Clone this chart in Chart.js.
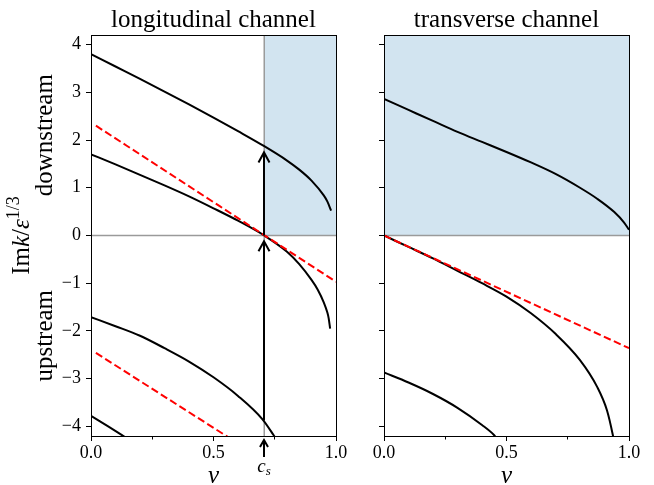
<!DOCTYPE html>
<html>
<head>
<meta charset="utf-8">
<script src="https://cdn.jsdelivr.net/npm/chart.js@4.4.1/dist/chart.umd.min.js"></script>
<style>
  body { margin: 0; background: #fff; }
  #wrap { position: relative; width: 654px; height: 485px; }
  canvas { position: absolute; top: 0; }
</style>
</head>
<body>
<div id="wrap">
  <canvas id="leftChart" width="360" height="485" style="left:0; width:360px; height:485px"></canvas>
  <canvas id="rightChart" width="294" height="485" style="left:360px; width:294px; height:485px"></canvas>
</div>
<script>
// sound speed c_s and axis limits
const cs = 0.7071;
const yMin = -4.2;
const yMax = 4.2;
const xTicks = [0, 0.5, 1];
const xMinorTicks = [0.25, 0.75];
const yTicks = [-4, -3, -2, -1, 0, 1, 2, 3, 4];

// longitudinal channel
const longAV = [0, 0.1, 0.2, 0.3, 0.4, 0.5, 0.6, 0.7071, 0.8, 0.85, 0.9, 0.95, 0.965, 0.98];
const longA = [3.80, 3.54, 3.28, 3.015, 2.745, 2.47, 2.185, 1.87, 1.57, 1.38, 1.15, 0.84, 0.71, 0.52];
const longBV = [0, 0.1, 0.2, 0.3, 0.4, 0.5, 0.6, 0.7071, 0.8, 0.85, 0.9, 0.925, 0.95, 0.965, 0.97, 0.976];
const longB = [1.70, 1.49, 1.27, 1.05, 0.82, 0.57, 0.31, 0.0, -0.34, -0.60, -0.93, -1.13, -1.40, -1.62, -1.73, -1.95];
const longCV = [0, 0.1, 0.2, 0.3, 0.4, 0.5, 0.6, 0.7, 0.745, 0.76];
const longC = [-1.71, -1.90, -2.10, -2.36, -2.64, -2.97, -3.36, -3.85, -4.18, -4.30];
const longDV = [0, 0.07, 0.15];
const longD = [-3.78, -4.0, -4.26];
const longRedUpV = [0.02, 1.0];
const longRedUp = [2.30, -0.97];
const longRedLowV = [0.02, 0.58];
const longRedLow = [-2.46, -4.29];

// transverse channel
const transEV = [0, 0.1, 0.2, 0.3, 0.4, 0.5, 0.6, 0.7, 0.8, 0.87, 0.94, 0.98, 1.0];
const transE = [2.86, 2.63, 2.40, 2.17, 1.96, 1.75, 1.53, 1.29, 1.00, 0.77, 0.49, 0.27, 0.12];
const transFV = [0, 0.1, 0.2, 0.3, 0.4, 0.5, 0.6, 0.7, 0.8, 0.87, 0.91, 0.934, 0.94];
const transF = [0, -0.24, -0.48, -0.74, -1.0, -1.28, -1.63, -2.06, -2.61, -3.17, -3.66, -4.18, -4.35];
const transGV = [0, 0.1, 0.2, 0.3, 0.4, 0.449, 0.46];
const transG = [-2.87, -3.08, -3.32, -3.61, -3.97, -4.18, -4.25];
const transRedV = [0, 1.0];
const transRed = [0, -2.36];

// arrows at c_s in the left panel
const arrowFrom = [-3.87, 0.0];
const arrowTo = [-0.12, 1.74];

const serif = "'Liberation Serif', 'Times New Roman', serif";
const shadeColor = '#d2e4f0';

function pts(xs, ys) {
    return xs.map((x, i) => ({ x: x, y: ys[i] }));
}

function curve(xs, ys, dashed) {
    return {
        data: pts(xs, ys),
        borderColor: dashed ? '#ff0000' : '#000000',
        borderWidth: 2,
        borderDash: dashed ? [7.5, 3.5] : [],
        pointRadius: 0,
        cubicInterpolationMode: 'monotone',
        fill: false,
        order: dashed ? 1 : 2
    };
}

function guide(xs, ys) {
    return {
        data: pts(xs, ys),
        borderColor: '#9a9a9a',
        borderWidth: 1.5,
        pointRadius: 0,
        tension: 0,
        fill: false,
        order: 8
    };
}

function shade(xs) {
    return {
        data: pts(xs, [yMax, yMax]),
        borderColor: 'rgba(0,0,0,0)',
        borderWidth: 0,
        backgroundColor: shadeColor,
        pointRadius: 0,
        tension: 0,
        fill: 'origin',
        order: 9
    };
}

function upArrow(ctx, x, y0, y1, hw, hl) {
    ctx.beginPath();
    ctx.moveTo(x, y0);
    ctx.lineTo(x, y1);
    ctx.moveTo(x - hw, y1 + hl);
    ctx.lineTo(x, y1);
    ctx.lineTo(x + hw, y1 + hl);
    ctx.stroke();
}

function rotatedText(ctx, text, x, y, font) {
    ctx.save();
    ctx.translate(x, y);
    ctx.rotate(-Math.PI / 2);
    ctx.font = font;
    ctx.textAlign = 'center';
    ctx.textBaseline = 'alphabetic';
    ctx.fillText(text, 0, 0);
    ctx.restore();
}

function yLabel(ctx, x, y) {
    const parts = [
        { t: 'Im', f: `25px ${serif}`, dy: 0 },
        { t: 'k', f: `italic 25px ${serif}`, dy: 0 },
        { t: '/', f: `25px ${serif}`, dy: 0 },
        { t: 'ε', f: `italic 25px ${serif}`, dy: 0 },
        { t: '1/3', f: `18px ${serif}`, dy: -10 }
    ];
    ctx.save();
    ctx.translate(x, y);
    ctx.rotate(-Math.PI / 2);
    ctx.textAlign = 'left';
    ctx.textBaseline = 'alphabetic';
    let total = 0;
    parts.forEach(p => {
        ctx.font = p.f;
        p.w = ctx.measureText(p.t).width;
        total += p.w;
    });
    let pos = -total / 2;
    parts.forEach(p => {
        ctx.font = p.f;
        ctx.fillText(p.t, pos, p.dy);
        pos += p.w;
    });
    ctx.restore();
}

function decor(title, isLeft) {
    return {
        id: 'decor',
        afterDatasetsDraw(chart) {
            if (!isLeft) return;
            const { ctx, scales: { x, y } } = chart;
            const px = Math.round(x.getPixelForValue(cs));
            ctx.save();
            ctx.strokeStyle = '#000';
            ctx.lineWidth = 2;
            ctx.lineJoin = 'miter';
            arrowFrom.forEach((v, i) => {
                upArrow(ctx, px, y.getPixelForValue(v), y.getPixelForValue(arrowTo[i]), 5.5, 10);
            });
            ctx.restore();
        },
        afterDraw(chart) {
            const { ctx, chartArea: a, scales: { x, y } } = chart;
            ctx.save();
            // axes box
            const l = Math.floor(a.left) + 0.5, r = Math.floor(a.right) + 0.5;
            const t = Math.floor(a.top) + 0.5, b = Math.floor(a.bottom) + 0.5;
            ctx.strokeStyle = '#000';
            ctx.lineWidth = 1;
            ctx.strokeRect(l, t, r - l, b - t);
            // minor x ticks
            ctx.beginPath();
            xMinorTicks.forEach(v => {
                const px = Math.floor(x.getPixelForValue(v)) + 0.5;
                ctx.moveTo(px, b);
                ctx.lineTo(px, b + 3);
            });
            ctx.stroke();

            ctx.fillStyle = '#000';
            ctx.textAlign = 'center';
            ctx.textBaseline = 'alphabetic';
            const mid = (a.left + a.right) / 2;
            ctx.font = `25px ${serif}`;
            ctx.fillText(title, mid, 27);
            ctx.font = `italic 25px ${serif}`;
            ctx.fillText('v', mid, 483);

            if (isLeft) {
                yLabel(ctx, 28.5, y.getPixelForValue(0));
                rotatedText(ctx, 'downstream', 52, y.getPixelForValue(2.1), `25px ${serif}`);
                rotatedText(ctx, 'upstream', 52, y.getPixelForValue(-2.1), `25px ${serif}`);

                // c_s marker under the axis
                const px = Math.round(x.getPixelForValue(cs));
                ctx.strokeStyle = '#000';
                ctx.lineWidth = 2;
                upArrow(ctx, px, a.bottom + 21, a.bottom + 4, 4, 7);
                ctx.font = `italic 19px ${serif}`;
                const cw = ctx.measureText('c').width;
                ctx.font = `italic 13px ${serif}`;
                const sw = ctx.measureText('s').width;
                const start = px - (cw + sw) / 2;
                ctx.textAlign = 'left';
                ctx.font = `italic 19px ${serif}`;
                ctx.fillText('c', start, a.bottom + 36);
                ctx.font = `italic 13px ${serif}`;
                ctx.fillText('s', start + cw, a.bottom + 39);
            }
            ctx.restore();
        }
    };
}

function scales(isLeft) {
    const tickFont = { family: serif, size: 18, lineHeight: 1.2 };
    return {
        x: {
            type: 'linear',
            min: 0,
            max: 1,
            afterBuildTicks: s => { s.ticks = xTicks.map(v => ({ value: v })); },
            afterFit: s => { s.height = 49; },
            grid: { drawOnChartArea: false, tickLength: 5, tickColor: '#000', tickWidth: 1 },
            border: { display: false },
            ticks: {
                color: '#000',
                font: tickFont,
                padding: 1,
                maxRotation: 0,
                callback: v => Number(v).toFixed(1)
            }
        },
        y: {
            type: 'linear',
            min: yMin,
            max: yMax,
            afterBuildTicks: s => { s.ticks = yTicks.map(v => ({ value: v })); },
            afterFit: s => { s.width = isLeft ? 91 : 24; },
            grid: { drawOnChartArea: false, tickLength: 5, tickColor: '#000', tickWidth: 1 },
            border: { display: false },
            ticks: {
                display: isLeft,
                color: '#000',
                font: tickFont,
                padding: 5,
                callback: v => String(v).replace('-', '\u2212')
            }
        }
    };
}

function makeChart(id, datasets, title, isLeft, padding) {
    return new Chart(document.getElementById(id), {
        type: 'line',
        data: { datasets: datasets },
        options: {
            responsive: false,
            animation: false,
            devicePixelRatio: 1,
            layout: { padding: padding },
            plugins: { legend: { display: false }, tooltip: { enabled: false } },
            scales: scales(isLeft)
        },
        plugins: [decor(title, isLeft)]
    });
}

makeChart('leftChart', [
    curve(longRedUpV, longRedUp, true),
    curve(longRedLowV, longRedLow, true),
    curve(longAV, longA, false),
    curve(longBV, longB, false),
    curve(longCV, longC, false),
    curve(longDV, longD, false),
    guide([0, 1], [0, 0]),
    guide([cs, cs], [yMin, yMax]),
    shade([cs, 1])
], 'longitudinal channel', true, { left: 0, right: 24, top: 35, bottom: 0 });

makeChart('rightChart', [
    curve(transRedV, transRed, true),
    curve(transEV, transE, false),
    curve(transFV, transF, false),
    curve(transGV, transG, false),
    guide([0, 1], [0, 0]),
    shade([0, 1])
], 'transverse channel', false, { left: 0, right: 25, top: 35, bottom: 0 });
</script>
</body>
</html>
